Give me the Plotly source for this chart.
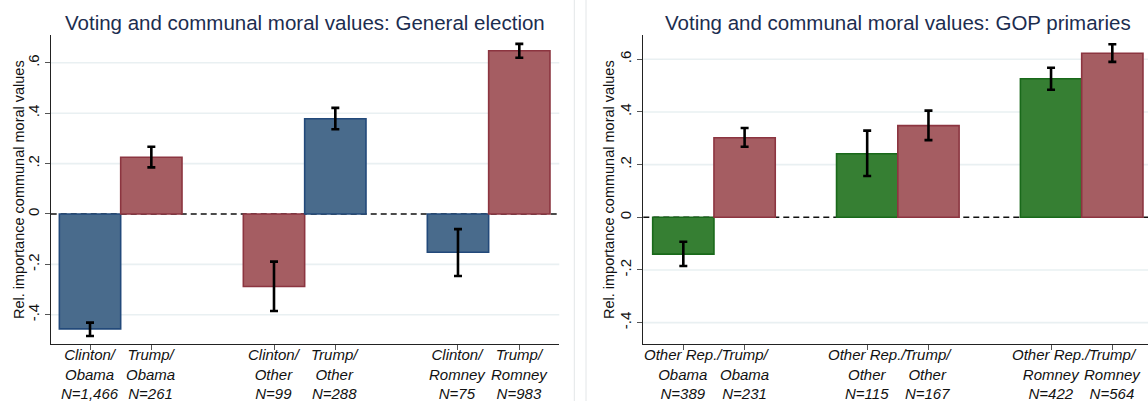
import plotly.graph_objects as go

# ---- General election panel ----
ge_vote16 = ["Clinton", "Trump", "Clinton", "Trump", "Clinton", "Trump"]
ge_vote12 = ["Obama", "Obama", "Other", "Other", "Romney", "Romney"]
ge_n = ["1,466", "261", "99", "288", "75", "983"]
ge_pos = [0, 1, 3, 4, 6, 7]
ge_mean = [-0.456, 0.225, -0.288, 0.378, -0.152, 0.648]
ge_lo = [-0.484, 0.185, -0.385, 0.336, -0.246, 0.620]
ge_hi = [-0.431, 0.267, -0.189, 0.421, -0.060, 0.675]
ge_colour = ["blue", "red", "red", "blue", "blue", "red"]

# ---- GOP primaries panel ----
gop_vote16 = ["Other Rep.", "Trump", "Other Rep.", "Trump", "Other Rep.", "Trump"]
gop_vote12 = ["Obama", "Obama", "Other", "Other", "Romney", "Romney"]
gop_n = ["389", "231", "115", "167", "422", "564"]
gop_pos = [0, 1, 3, 4, 6, 7]
gop_mean = [-0.140, 0.302, 0.241, 0.348, 0.526, 0.623]
gop_lo = [-0.185, 0.268, 0.157, 0.293, 0.484, 0.590]
gop_hi = [-0.093, 0.339, 0.329, 0.405, 0.568, 0.657]
gop_colour = ["green", "red", "green", "red", "green", "red"]

y_ticks = [-0.4, -0.2, 0, 0.2, 0.4, 0.6]
y_ticktext = ["-.4", "-.2", "0", ".2", ".4", ".6"]
y_title = "Rel. importance communal moral values"

FILL = {"blue": "#496b8c", "red": "#a55d62", "green": "#367f33"}
EDGE = {"blue": "#22497a", "red": "#8c3540", "green": "#19691a"}

W, H = 1148, 401
FONT = "Liberation Sans, Arial, Helvetica, sans-serif"


def px_x(p):
    return p / W


def px_y(p):
    return 1 - p / H


def bar_trace(pos, mean, lo, hi, colours, xa, ya):
    return go.Bar(
        x=pos, y=mean, width=1.0,
        marker=dict(color=[FILL[c] for c in colours],
                    line=dict(color=[EDGE[c] for c in colours], width=1.6)),
        error_y=dict(type="data", symmetric=False,
                     array=[h - m for h, m in zip(hi, mean)],
                     arrayminus=[m - l for m, l in zip(mean, lo)],
                     color="black", thickness=2.6, width=4),
        xaxis=xa, yaxis=ya, showlegend=False, hoverinfo="skip",
    )


fig = go.Figure()
fig.add_trace(bar_trace(ge_pos, ge_mean, ge_lo, ge_hi, ge_colour, "x", "y"))
fig.add_trace(bar_trace(gop_pos, gop_mean, gop_lo, gop_hi, gop_colour, "x2", "y2"))

ydom = [px_y(344.3), px_y(35)]
xcommon = dict(showgrid=False, zeroline=False, showline=True, linecolor="#222",
               linewidth=1, ticks="outside", ticklen=5, tickcolor="#555",
               showticklabels=False)
ycommon = dict(showgrid=False, zeroline=False,
               showline=True, linecolor="#222", linewidth=1, ticks="outside",
               ticklen=5, tickcolor="#555", tickvals=y_ticks, ticktext=y_ticktext,
               tickangle=-90, tickfont=dict(family=FONT, size=15, color="#111"))

fig.update_layout(
    width=W, height=H, margin=dict(l=0, r=0, t=0, b=0),
    paper_bgcolor="white", plot_bgcolor="white",
    xaxis=dict(domain=[px_x(50.7), px_x(559.3)], range=[-0.641, 7.652],
               tickvals=ge_pos, anchor="y", **xcommon),
    yaxis=dict(domain=ydom, range=[-0.5171, 0.7103], anchor="x", **ycommon),
    xaxis2=dict(domain=[px_x(643.3), 1.0], range=[-0.653, 7.582],
                tickvals=gop_pos, anchor="y2", **xcommon),
    yaxis2=dict(domain=ydom, range=[-0.4822, 0.6921], anchor="x2", **ycommon),
)

for xa, ya in [("x", "y"), ("x2", "y2")]:
    # horizontal grid lines
    for v in y_ticks:
        if v == 0:
            continue
        fig.add_shape(type="line", xref=f"{xa} domain", yref=ya, x0=0, x1=1,
                      y0=v, y1=v, line=dict(color="#e9f0f2", width=1.6),
                      layer="below")
    # dashed reference line at zero, beneath the bars
    fig.add_shape(type="line", xref=f"{xa} domain", yref=ya, x0=0, x1=1,
                  y0=0, y1=0, line=dict(color="#111", width=1.6, dash="6px,4px"),
                  layer="below")

# category labels under each bar
for xa, pos, v16, v12, n in [("x", ge_pos, ge_vote16, ge_vote12, ge_n),
                             ("x2", gop_pos, gop_vote16, gop_vote12, gop_n)]:
    for p, a, b, c in zip(pos, v16, v12, n):
        fig.add_annotation(text=f"{a}/<br>{b}<br>N={c}", xref=xa, yref="paper",
                           x=p, y=px_y(374), xanchor="center", yanchor="middle",
                           showarrow=False, align="center", borderpad=0,
                           font=dict(family=FONT, size=15, color="#111",
                                     style="italic"))

# y-axis titles
for cx in [19.0, 609.0]:
    fig.add_annotation(text=y_title, xref="paper", yref="paper", x=px_x(cx),
                       y=px_y(190), xanchor="center", yanchor="middle",
                       textangle=-90, showarrow=False,
                       font=dict(family=FONT, size=14.5, color="#111"))

# panel borders between the two graphs
for x in [574.3, 586.0]:
    fig.add_shape(type="line", xref="paper", yref="paper", x0=px_x(x), x1=px_x(x),
                  y0=0, y1=1, line=dict(color="#e3e6e8", width=1), layer="below")

titles = [("Voting and communal moral values: General election", 305.0),
          ("Voting and communal moral values: GOP primaries", 897.6)]
for text, cx in titles:
    fig.add_annotation(text=text, xref="paper", yref="paper", x=px_x(cx), y=px_y(22),
                       xanchor="center", yanchor="middle", showarrow=False,
                       font=dict(family=FONT, size=20.5, color="#1c2d4f"))

fig.write_html("out.html")
